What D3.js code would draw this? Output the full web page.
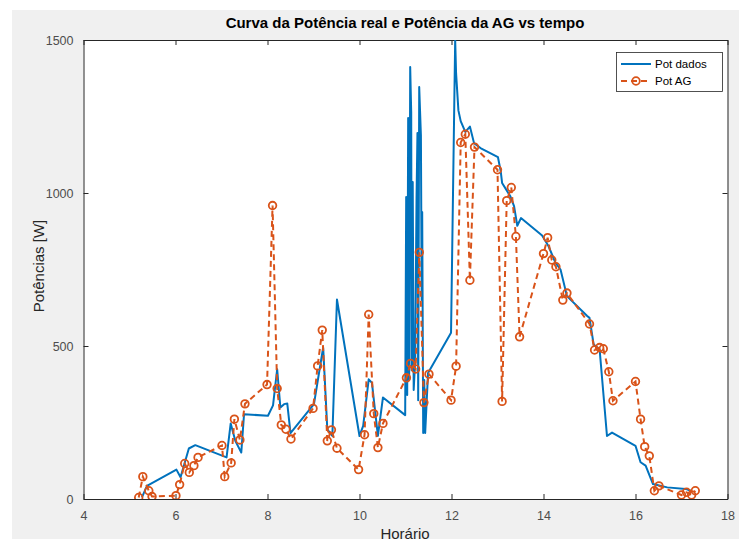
<!DOCTYPE html>
<html>
<head>
<meta charset="utf-8">
<script src="https://cdn.jsdelivr.net/npm/d3@7"></script>
<style>
  html, body { margin: 0; padding: 0; background: #ffffff; }
  svg { display: block; }
  text { font-family: "Liberation Sans", Arial, Helvetica, sans-serif; }
</style>
</head>
<body>
<svg id="chart" width="739" height="539"></svg>
<script>
// Measured power (hour of day, W)
const dadosHora = [5.27, 5.38, 6.02, 6.11, 6.29, 6.43, 7.11, 7.20, 7.30, 7.43, 7.49, 8.01, 8.12, 8.21, 8.28, 8.36, 8.43, 8.50,
  9.01, 9.21, 9.30, 9.41, 9.51, 10.00, 10.08, 10.20, 10.27, 10.40, 10.51,
  10.993, 11.015, 11.037, 11.058, 11.08, 11.102, 11.124, 11.135, 11.157, 11.178, 11.211, 11.24, 11.26, 11.276, 11.298,
  11.335, 11.352, 11.363, 11.385, 11.407, 11.428, 11.49,
  11.99, 12.08, 12.10, 12.15, 12.20, 12.30, 12.40, 12.49, 12.63, 13.01, 13.07, 13.10, 13.28, 13.36, 13.43, 13.51,
  13.97, 14.11, 14.26, 14.37, 14.51, 14.95, 15.00, 15.09, 15.22, 15.38, 15.49, 16.00, 16.11, 16.22, 16.38, 16.47, 16.69, 17.09, 17.20];
const dadosPot = [5, 43, 96, 71, 165, 176, 136, 247, 190, 152, 277, 272, 306, 424, 299, 310, 312, 215,
  310, 495, 228, 206, 652, 206, 239, 391, 380, 206, 332,
  274, 987, 340, 1245, 389, 1412, 1265, 421, 1036, 356, 454, 984, 1196, 323, 1346,
  1189, 650, 938, 216, 389, 216, 412,
  543, 1500, 1390, 1270, 1235, 1200, 1217, 1163, 1147, 1117, 1071, 1033, 989, 957, 893, 918,
  861, 826, 772, 750, 663, 598, 592, 505, 489, 206, 217, 174, 120, 109, 49, 46, 38, 33, 27];

// Power estimated by the genetic algorithm (hour of day, W)
const agHora = [5.20, 5.29, 5.42, 5.49, 6.01, 6.09, 6.20, 6.30, 6.40, 6.49, 7.01, 7.07, 7.21, 7.28, 7.40, 7.51,
  7.99, 8.11, 8.21, 8.30, 8.40, 8.51, 8.99, 9.09, 9.19, 9.30, 9.39, 9.51, 9.98, 10.11, 10.20, 10.31, 10.40, 10.51,
  11.02, 11.11, 11.22, 11.30, 11.40, 11.51, 11.99, 12.10, 12.20, 12.30, 12.40, 12.50, 13.00, 13.10, 13.20, 13.30,
  13.40, 13.48, 14.00, 14.09, 14.18, 14.27, 14.42, 14.51, 15.00, 15.11, 15.22, 15.30, 15.42, 15.51, 16.00, 16.11,
  16.20, 16.30, 16.41, 16.51, 17.00, 17.11, 17.22, 17.30];
const agPot = [5, 73, 27, 8, 11, 47, 116, 87, 109, 136, 175, 73, 118, 261, 193, 311,
  374, 959, 361, 242, 228, 196, 296, 435, 552, 190, 226, 166, 96, 210, 603, 279, 168, 247,
  396, 443, 425, 806, 315, 408, 323, 434, 1165, 1192, 715, 1150, 1076, 319, 975, 1018,
  858, 530, 802, 854, 781, 759, 650, 673, 572, 487, 495, 491, 416, 321, 384, 261,
  171, 141, 27, 43, 13, 22, 13, 27];

const xTicks = [4, 6, 8, 10, 12, 14, 16, 18];
const yTicks = [0, 500, 1000, 1500];
const titulo = "Curva da Potência real e Potência da AG vs tempo";
const rotuloX = "Horário";
const rotuloY = "Potências [W]";
const legenda = ["Pot dados", "Pot AG"];

const azul = "#0072BD";
const laranja = "#D95319";
const eixoCor = "#262626";

const svg = d3.select("#chart");

// Figure background
svg.append("rect").attr("x", 12).attr("y", 10).attr("width", 727).attr("height", 529).attr("fill", "#f0f0f0");

const plot = { left: 83.5, right: 727.5, top: 40, bottom: 499 };
const x = d3.scaleLinear().domain([4, 18]).range([plot.left, plot.right]);
const y = d3.scaleLinear().domain([0, 1500]).range([plot.bottom, plot.top]);

svg.append("rect")
  .attr("x", plot.left).attr("y", plot.top)
  .attr("width", plot.right - plot.left).attr("height", plot.bottom - plot.top)
  .attr("fill", "#ffffff");

svg.append("defs").append("clipPath").attr("id", "clip")
  .append("rect")
  .attr("x", plot.left).attr("y", plot.top)
  .attr("width", plot.right - plot.left).attr("height", plot.bottom - plot.top);

const tickLen = 5;
const fontTick = "12.5px";

// Axes (bottom, left) with inward ticks
const gx = svg.append("g").attr("transform", `translate(0,${plot.bottom})`)
  .call(d3.axisBottom(x).tickValues(xTicks).tickFormat(d3.format("d")).tickSizeInner(-tickLen).tickSizeOuter(0).tickPadding(12));
const gy = svg.append("g").attr("transform", `translate(${plot.left},0)`)
  .call(d3.axisLeft(y).tickValues(yTicks).tickFormat(d3.format("d")).tickSizeInner(-tickLen).tickSizeOuter(0).tickPadding(10));
// Top and right ticks (box)
const gxt = svg.append("g").attr("transform", `translate(0,${plot.top})`)
  .call(d3.axisTop(x).tickValues(xTicks).tickFormat("").tickSizeInner(-tickLen).tickSizeOuter(0));
const gyr = svg.append("g").attr("transform", `translate(${plot.right},0)`)
  .call(d3.axisRight(y).tickValues(yTicks).tickFormat("").tickSizeInner(-tickLen).tickSizeOuter(0));

[gx, gy, gxt, gyr].forEach(g => {
  g.select(".domain").attr("stroke", eixoCor).attr("stroke-width", 1);
  g.selectAll(".tick line").attr("stroke", eixoCor).attr("stroke-width", 1);
  g.selectAll(".tick text").attr("fill", "#4d4d4d").style("font-size", fontTick)
    .style("font-family", "'Liberation Sans', Arial, Helvetica, sans-serif");
});

// Measured data line
const linha = d3.line().x(d => x(d[0])).y(d => y(d[1]));
const dados = dadosHora.map((h, i) => [h, dadosPot[i]]);
const ag = agHora.map((h, i) => [h, agPot[i]]);

const area = svg.append("g").attr("clip-path", "url(#clip)");
area.append("path").datum(dados)
  .attr("d", linha).attr("fill", "none")
  .attr("stroke", azul).attr("stroke-width", 2).attr("stroke-linejoin", "round");

// Genetic-algorithm estimate: dashed line with circle markers
area.append("path").datum(ag)
  .attr("d", linha).attr("fill", "none")
  .attr("stroke", laranja).attr("stroke-width", 2).attr("stroke-dasharray", "6,4");
area.selectAll("circle.ag").data(ag).enter().append("circle")
  .attr("class", "ag")
  .attr("cx", d => x(d[0])).attr("cy", d => y(d[1])).attr("r", 3.8)
  .attr("fill", "none").attr("stroke", laranja).attr("stroke-width", 1.8);

// Title and axis labels
svg.append("text").attr("x", 405).attr("y", 28).attr("text-anchor", "middle")
  .style("font-size", "15px").style("font-weight", "bold").attr("fill", "#000")
  .text(titulo);
svg.append("text").attr("x", 405).attr("y", 539).attr("text-anchor", "middle")
  .style("font-size", "15px").attr("fill", "#262626").text(rotuloX);
svg.append("text").attr("transform", "translate(44,266) rotate(-90)").attr("text-anchor", "middle")
  .style("font-size", "15px").attr("fill", "#262626").text(rotuloY);

// Legend
const leg = svg.append("g");
leg.append("rect").attr("x", 616.5).attr("y", 52.5).attr("width", 106).attr("height", 39)
  .attr("fill", "#ffffff").attr("stroke", eixoCor).attr("stroke-width", 0.8);
leg.append("line").attr("x1", 621).attr("x2", 651).attr("y1", 64).attr("y2", 64)
  .attr("stroke", azul).attr("stroke-width", 2);
leg.append("line").attr("x1", 621).attr("x2", 651).attr("y1", 81).attr("y2", 81)
  .attr("stroke", laranja).attr("stroke-width", 2).attr("stroke-dasharray", "6,4");
leg.append("circle").attr("cx", 636).attr("cy", 81).attr("r", 3.8)
  .attr("fill", "none").attr("stroke", laranja).attr("stroke-width", 1.8);
leg.selectAll("text.leg").data(legenda).enter().append("text")
  .attr("class", "leg").attr("x", 655).attr("y", (d, i) => 68 + i * 17)
  .style("font-size", "11.5px").attr("fill", "#000").text(d => d);
</script>
</body>
</html>
